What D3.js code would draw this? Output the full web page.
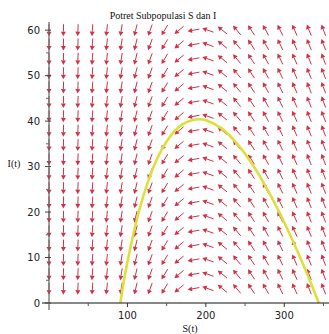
<!DOCTYPE html>
<html>
<head>
<meta charset="utf-8">
<script src="https://cdn.jsdelivr.net/npm/d3@7"></script>
<style>
  body { margin: 0; background: #fff; }
  svg { display: block; }
</style>
</head>
<body>
<div id="chart"></div>
<script>
// direction field grid (S columns, I rows) and the field's rates per column
const sGrid = [0, 18.42, 36.84, 55.26, 73.68, 92.11, 110.53, 128.95, 147.37, 165.79,
  184.21, 202.63, 221.05, 239.47, 257.89, 276.32, 294.74, 313.16, 331.58, 350];
const iGrid = [3.16, 6.32, 9.47, 12.63, 15.79, 18.95, 22.11, 25.26, 28.42, 31.58,
  34.74, 37.89, 41.05, 44.21, 47.37, 50.53, 53.68, 56.84, 60];
const dS = [0, -18.4, -36.8, -55.3, -73.7, -92.1, -110.5, -129, -147.4, -165.8,
  -184.2, -202.6, -221, -239.5, -257.9, -276.3, -294.7, -313.2, -331.6, -350];
const dI = [-190, -171.6, -153.2, -134.7, -116.3, -97.9, -79.5, -61, -42.6, -24.2,
  -5.8, 12.6, 31, 49.5, 67.9, 86.3, 104.7, 123.2, 141.6, 160];

// yellow trajectory
const curveS = [91, 95, 100, 110, 120, 130, 140, 150, 160, 170, 180, 190, 200, 220, 240, 260, 280, 300, 320, 335, 344];
const curveI = [0, 4.4, 9, 17, 23.4, 28.5, 32.5, 35.5, 37.8, 39.3, 40.1, 40.4, 40.2, 38.4, 35, 30.3, 24.5, 17.7, 10.1, 3.9, 0];

const xTicks = [100, 200, 300];
const xMinor = [50, 150, 250, 350];
const yTicks = [0, 10, 20, 30, 40, 50, 60];
const yMinor = [5, 15, 25, 35, 45, 55];

const width = 329, height = 334;
const x = d3.scaleLinear().domain([0, 357]).range([49, 329]);
const y = d3.scaleLinear().domain([0, 61.8]).range([303, 22]);

const svg = d3.select('#chart').append('svg')
  .attr('width', width)
  .attr('height', height);

const red = '#d03248';
const L = 12, headLen = 4.5, headW = 2.5;
const kx = x(1) - x(0), ky = y(0) - y(1);

const field = [];
sGrid.forEach((s, c) => {
  iGrid.forEach(i => field.push({ s, i, ds: dS[c], di: dI[c] }));
});

const arrows = svg.append('g');
field.forEach(d => {
  let vx = d.ds * kx, vy = -d.di * ky;
  const n = Math.hypot(vx, vy);
  if (n === 0) return;
  vx = vx / n; vy = vy / n;
  const cx = x(d.s), cy = y(d.i);
  const tx = cx - vx * L / 2, ty = cy - vy * L / 2;
  const hx = cx + vx * L / 2, hy = cy + vy * L / 2;
  const bx = hx - vx * headLen, by = hy - vy * headLen;
  arrows.append('line')
    .attr('x1', tx).attr('y1', ty).attr('x2', bx).attr('y2', by)
    .attr('stroke', red).attr('stroke-width', 1);
  arrows.append('path')
    .attr('d', `M${hx},${hy}L${bx - vy * headW},${by + vx * headW}L${bx + vy * headW},${by - vx * headW}Z`)
    .attr('fill', red);
});

// trajectory
const line = d3.line().x((d, k) => x(curveS[k])).y(d => y(d)).curve(d3.curveCatmullRom);
svg.append('path')
  .attr('d', line(curveI))
  .attr('fill', 'none')
  .attr('stroke', '#dce03c')
  .attr('stroke-width', 2.6);

// axes
svg.append('line')
  .attr('x1', 42).attr('x2', 329).attr('y1', y(0)).attr('y2', y(0))
  .attr('stroke', '#111').attr('stroke-width', 1);
svg.append('line')
  .attr('x1', x(0)).attr('x2', x(0)).attr('y1', 22).attr('y2', 310)
  .attr('stroke', '#666').attr('stroke-width', 1.2);

svg.selectAll('.xt').data(xTicks).enter().append('line')
  .attr('x1', d => x(d)).attr('x2', d => x(d)).attr('y1', y(0)).attr('y2', y(0) + 4)
  .attr('stroke', '#333');
svg.selectAll('.xm').data(xMinor).enter().append('line')
  .attr('x1', d => x(d)).attr('x2', d => x(d)).attr('y1', y(0)).attr('y2', y(0) + 3)
  .attr('stroke', '#555');
svg.selectAll('.yt').data(yTicks).enter().append('line')
  .attr('x1', x(0) - 4).attr('x2', x(0) + 2).attr('y1', d => y(d)).attr('y2', d => y(d))
  .attr('stroke', '#444');
svg.selectAll('.ym').data(yMinor).enter().append('line')
  .attr('x1', x(0) - 3).attr('x2', x(0)).attr('y1', d => y(d)).attr('y2', d => y(d))
  .attr('stroke', '#666');

svg.selectAll('.xl').data(xTicks).enter().append('text')
  .attr('x', d => x(d)).attr('y', 319)
  .attr('text-anchor', 'middle')
  .style('font', '10px "DejaVu Sans", sans-serif').attr('fill', '#222')
  .text(d => d);
svg.selectAll('.yl').data(yTicks).enter().append('text')
  .attr('x', 40).attr('y', d => y(d) + 3.5)
  .attr('text-anchor', 'end')
  .style('font', '10px "DejaVu Sans", sans-serif').attr('fill', '#222')
  .text(d => d);

svg.append('text')
  .attr('x', 163).attr('y', 19)
  .attr('text-anchor', 'middle')
  .style('font', '10px "Liberation Serif", serif').attr('fill', '#111')
  .text('Potret Subpopulasi S dan I');
svg.append('text')
  .attr('x', 190).attr('y', 332)
  .attr('text-anchor', 'middle')
  .style('font', '10px "Liberation Serif", serif').attr('fill', '#111')
  .text('S(t)');
svg.append('text')
  .attr('x', 14).attr('y', 167)
  .attr('text-anchor', 'middle')
  .style('font', '10px "Liberation Serif", serif').attr('fill', '#111')
  .text('I(t)');
</script>
</body>
</html>
